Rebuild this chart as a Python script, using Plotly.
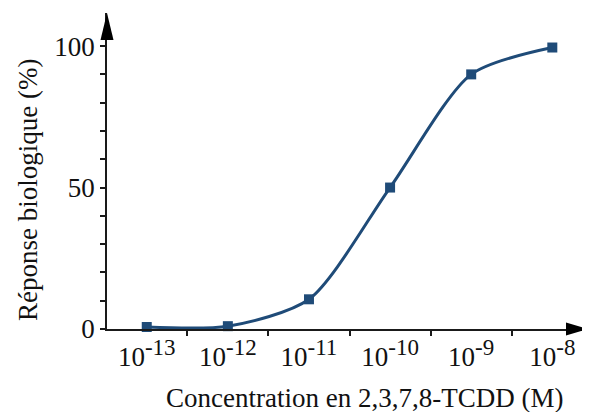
import plotly.graph_objects as go

# dose-response of 2,3,7,8-TCDD
conc = [1e-13, 1e-12, 1e-11, 1e-10, 1e-9, 1e-8]
response = [0.7, 1.0, 10.5, 50, 90, 99.5]

x_ticks = [1e-13, 1e-12, 1e-11, 1e-10, 1e-9, 1e-8]
x_exp = ["-13", "-12", "-11", "-10", "-9", "-8"]
x_ticktext = ["10<sup><span style='font-size:23px'>%s</span></sup>" % e for e in x_exp]
x_minor = [10 ** -12.5, 10 ** -11.5, 10 ** -10.5, 10 ** -9.5, 10 ** -8.5]
y_ticks = [0, 50, 100]
y_minor = list(range(0, 101, 10))

BLUE = "#1f4b78"
AXIS = "#1a1a1a"
TEXT = "#111111"
FONT = "Liberation Serif"

fig = go.Figure()
fig.add_trace(go.Scatter(
    x=conc, y=response,
    mode="lines+markers",
    line=dict(color=BLUE, width=3, shape="spline", smoothing=0.75),
    marker=dict(symbol="square", size=10, color=BLUE),
    cliponaxis=False,
    showlegend=False,
))

fig.update_xaxes(
    type="log", range=[-13.49, -7.56], automargin=False,
    tickvals=x_ticks, ticktext=x_ticktext, ticks="",
    ticklabelstandoff=3,
    minor=dict(tickvals=x_minor, ticks="outside", ticklen=5, tickwidth=1.5, tickcolor=AXIS),
    showline=True, linecolor=AXIS, linewidth=1.5,
    showgrid=False, zeroline=False,
    tickfont=dict(family=FONT, size=27, color=TEXT),
)
fig.update_yaxes(
    range=[0, 111.7], automargin=False,
    tickvals=y_ticks, ticks="outside", ticklen=5, tickwidth=1.5, tickcolor=AXIS,
    minor=dict(tickvals=y_minor, ticks="outside", ticklen=5, tickwidth=1.5, tickcolor=AXIS),
    showline=True, linecolor=AXIS, linewidth=1.5,
    showgrid=False, zeroline=False,
    tickfont=dict(family=FONT, size=27, color=TEXT),
)

# axis titles
fig.add_annotation(text="Concentration en 2,3,7,8-TCDD (M)", xref="paper", yref="paper",
                   x=0.535, y=0, yanchor="middle", yshift=-69, showarrow=False,
                   font=dict(family=FONT, size=27, color=TEXT))
fig.add_annotation(text="Réponse biologique (%)", xref="paper", yref="paper",
                   x=0, y=0.44, xanchor="center", xshift=-79, textangle=-90, showarrow=False,
                   font=dict(family=FONT, size=27, color=TEXT))

# arrowheads at the ends of both axes
fig.add_shape(type="path", xref="paper", yref="paper",
              xsizemode="pixel", ysizemode="pixel", xanchor=0, yanchor=1,
              path="M-6.5,-27 L6.5,-27 L0,0 Z",
              fillcolor="black", line=dict(width=0))
fig.add_shape(type="path", xref="paper", yref="paper",
              xsizemode="pixel", ysizemode="pixel", xanchor=1, yanchor=0,
              path="M-22,-6.5 L-22,6.5 L0,0 Z",
              fillcolor="black", line=dict(width=0))

# page body adds an 8px offset, so the figure is 8px smaller
fig.update_layout(
    width=582, height=404,
    margin=dict(l=99, r=2, t=5, b=83),
    plot_bgcolor="white", paper_bgcolor="white",
    font=dict(family=FONT),
)

fig.write_html("out.html")
